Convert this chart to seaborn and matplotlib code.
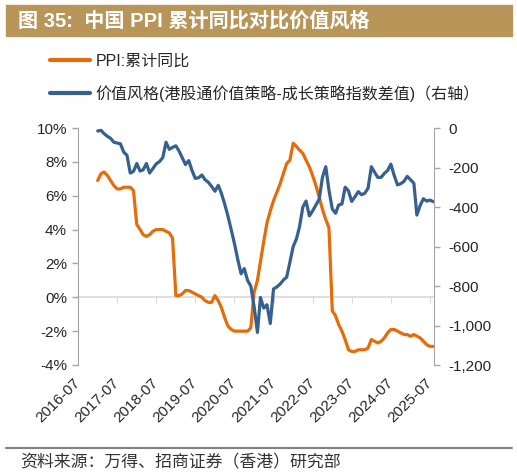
import pandas as pd
import seaborn as sns
import matplotlib.pyplot as plt
from matplotlib.ticker import FuncFormatter, MultipleLocator
from matplotlib.patches import Rectangle
from matplotlib.lines import Line2D
from matplotlib.transforms import ScaledTranslation

# monthly data, 2017-01 .. 2025-08
months = pd.date_range('2017-01-01', '2025-08-01', freq='MS')

# PPI cumulative YoY (%), left axis
ppi_ytd = [6.9, 7.3, 7.4, 7.2, 6.9, 6.6, 6.4, 6.4, 6.5, 6.5, 6.5, 6.3,
           4.3, 4.0, 3.7, 3.6, 3.7, 3.9, 4.0, 4.0, 4.0, 3.9, 3.8, 3.5,
           0.1, 0.1, 0.2, 0.4, 0.4, 0.3, 0.2, 0.1, 0.0, -0.2, -0.3, -0.3,
           0.1, -0.2, -0.6, -1.2, -1.7, -1.9, -2.0, -2.0, -2.0, -2.0, -2.0, -1.8,
           0.3, 1.0, 2.1, 3.3, 4.4, 5.1, 5.7, 6.2, 6.7, 7.3, 7.9, 8.1,
           9.1, 8.9, 8.7, 8.5, 8.1, 7.7, 7.2, 6.6, 5.9, 5.2, 4.6, 4.1,
           -0.8, -1.1, -1.6, -2.0, -2.5, -3.1, -3.2, -3.2, -3.1, -3.1, -3.1, -3.0,
           -2.5, -2.6, -2.7, -2.6, -2.4, -2.1, -1.9, -1.9, -2.0, -2.1, -2.2, -2.2,
           -2.3, -2.2, -2.3, -2.4, -2.6, -2.8, -2.9, -2.9]

# value minus growth index spread, right axis
value_spread = [-15, -12, -28, -42, -52, -72, -76, -80, -122, -138, -228, -220,
                -180, -218, -212, -180, -228, -205, -182, -170, -150, -72, -108, -98,
                -90, -118, -150, -185, -165, -215, -255, -252, -238, -262, -275, -296,
                -320, -290, -330, -385, -445, -515, -585, -665, -738, -712, -772, -800,
                -905, -1035, -858, -912, -895, -990, -815, -805, -790, -770, -755, -680,
                -600, -560, -500, -400, -370, -445, -420, -390, -360, -250, -196, -315,
                -410, -432, -390, -385, -300, -318, -372, -348, -322, -338, -330, -305,
                -196, -225, -250, -250, -230, -215, -183, -240, -288, -282, -270, -245,
                -262, -280, -441, -392, -358, -370, -365, -373]

tick_dates = pd.date_range('2016-07-01', '2025-07-01', freq='12MS')
tick_labels = [d.strftime('%Y-%m') for d in tick_dates]

title = '图 35:  中国 PPI 累计同比对比价值风格'
ppi_label = 'PPI:累计同比'
spread_label = '价值风格(港股通价值策略-成长策略指数差值)（右轴）'
source = '资料来源：万得、招商证券（香港）研究部'

sns.set_style('white')
plt.rcParams['font.family'] = ['Liberation Sans', 'Noto Sans CJK SC', 'DejaVu Sans']

orange = '#E46C0A'
blue = '#35608F'
grey = '#A6A6A6'

fig = plt.figure(figsize=(5.17, 4.74), dpi=100)
ax = fig.add_axes([78/517, 1-365/474, 356/517, 237/474])
ax2 = ax.twinx()

sns.lineplot(x=months, y=ppi_ytd, ax=ax, color=orange, linewidth=2.3)
sns.lineplot(x=months, y=value_spread, ax=ax2, color=blue, linewidth=2.3)

ax.set_xlim(pd.Timestamp('2016-07-01'), pd.Timestamp('2025-08-08'))
ax.set_ylim(-4, 10)
ax2.set_ylim(-1200, 0)
ax.yaxis.set_major_locator(MultipleLocator(2))
ax2.yaxis.set_major_locator(MultipleLocator(200))
ax.yaxis.set_major_formatter(FuncFormatter(lambda v, p: '%d%%' % round(v)))
ax2.yaxis.set_major_formatter(FuncFormatter(lambda v, p: '{:,d}'.format(int(round(v)))))

ax.set_xticks(tick_dates)
ax.set_xticklabels(tick_labels, rotation=45, ha='right', va='center',
                   rotation_mode='anchor')
shift = ScaledTranslation(3/72, 0, fig.dpi_scale_trans)
for lbl in ax.get_xticklabels():
    lbl.set_transform(lbl.get_transform() + shift)
ax.tick_params(axis='x', length=0, pad=11, labelsize=11)
ax.tick_params(axis='y', direction='out', length=4, width=1, color=grey,
               labelsize=11, pad=4, left=True)
ax2.tick_params(axis='y', direction='out', length=4, width=1, color=grey,
                labelsize=11, pad=6, right=True)

for a in (ax, ax2):
    a.set_xlabel('')
    a.set_ylabel('')
    for s in ('top', 'bottom'):
        a.spines[s].set_visible(False)
ax.spines['left'].set_color(grey)
ax.spines['right'].set_visible(False)
ax2.spines['left'].set_visible(False)
ax2.spines['right'].set_color(grey)

# zero line with its own tick marks
zero_axis = ax.secondary_xaxis(4/14)
zero_axis.set_xticks(tick_dates)
zero_axis.xaxis.set_ticks_position('bottom')
zero_axis.tick_params(axis='x', direction='out', length=4, color='#D9D9D9',
                      labelbottom=False, labeltop=False)
zero_axis.spines['bottom'].set_color('#D9D9D9')
zero_axis.spines['bottom'].set_linewidth(1.2)

# title band
fig.add_artist(Rectangle((6/517, 1-36/474), 506/517, 31/474,
                         transform=fig.transFigure, color='#B8965A', zorder=0))
fig.text(18/517, 1-21/474, title, color='white', fontsize=14.5, fontweight='bold',
         va='center', ha='left', family=['Liberation Sans', 'Noto Sans CJK SC'])

# legend
handles = [Line2D([], [], color=orange, linewidth=3),
           Line2D([], [], color=blue, linewidth=3)]
fig.legend(handles, [ppi_label, spread_label], loc='upper left',
           bbox_to_anchor=(50/517, 1-54/474), frameon=False, fontsize=11.5,
           handlelength=2.5, handletextpad=0.35, labelspacing=1.0,
           borderpad=0, borderaxespad=0)

# source
fig.add_artist(Line2D([6/517, 512/517], [1-448/474, 1-448/474],
                      transform=fig.transFigure, color='#808080', linewidth=1.5))
fig.text(20/517, 1-462/474, source, fontsize=12.2, color='#333333',
         va='center', ha='left', family=['Noto Sans CJK SC', 'DejaVu Sans'])

fig.savefig('out.png', dpi=100)
